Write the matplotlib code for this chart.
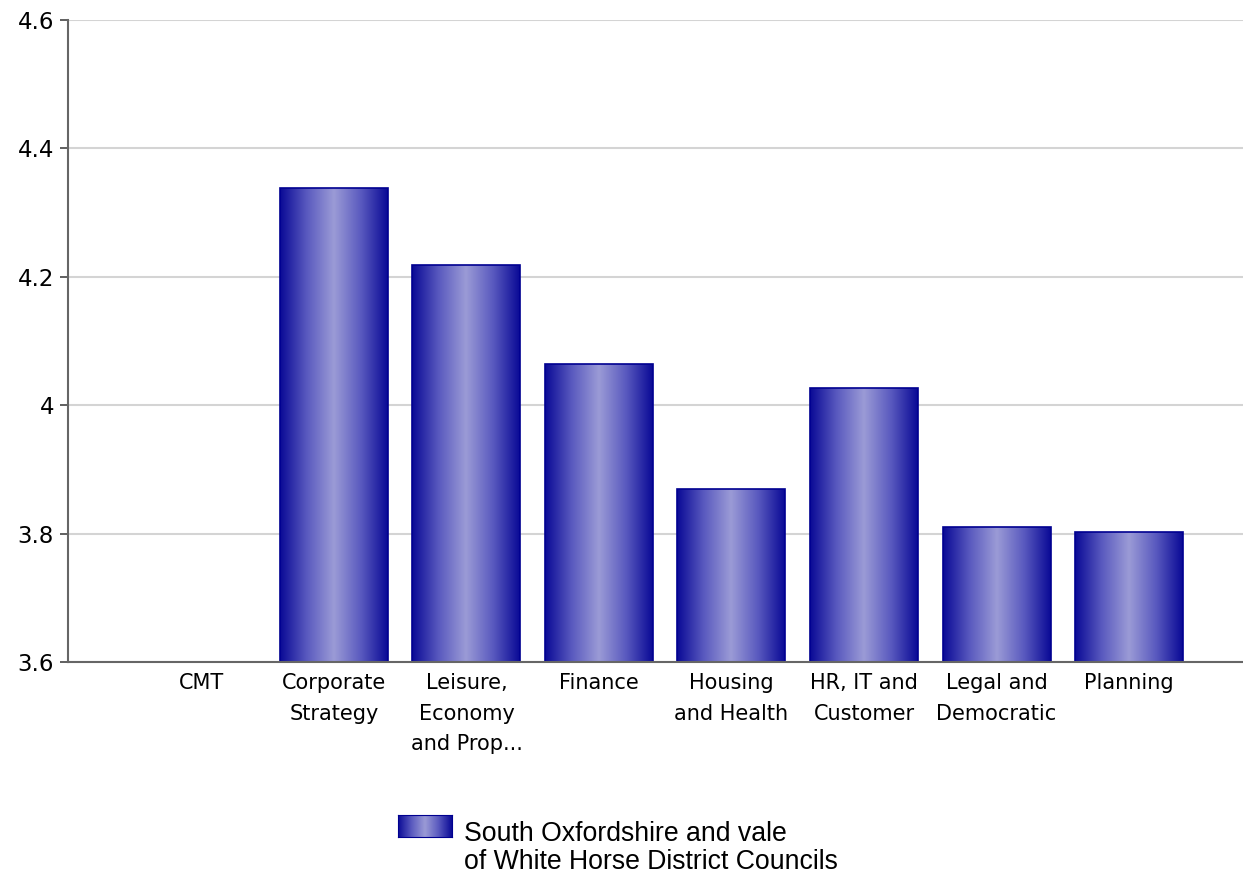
import numpy as np
import matplotlib
matplotlib.use("Agg")
import matplotlib.pyplot as plt
from matplotlib.colors import LinearSegmentedColormap

categories = ["CMT", "Corporate\nStrategy", "Leisure,\nEconomy\nand Prop...", "Finance",
              "Housing\nand Health", "HR, IT and\nCustomer", "Legal and\nDemocratic", "Planning"]
values = [np.nan, 4.338, 4.218, 4.064, 3.869, 4.027, 3.81, 3.803]
series_name = "South Oxfordshire and vale\nof White Horse District Councils"
yticks = [3.6, 3.8, 4.0, 4.2, 4.4, 4.6]
ytick_labels = ["3.6", "3.8", "4", "4.2", "4.4", "4.6"]

# dark edges -> light middle, like a cylinder
cmap = LinearSegmentedColormap.from_list("cyl", ["#0a0a96", "#5a5abf", "#9b9bd6", "#5a5abf", "#0a0a96"])
grad = np.linspace(0, 1, 256).reshape(1, -1)

fig = plt.figure(figsize=(12.43, 8.74), dpi=100)
ax = fig.add_axes([68 / 1243, 1 - 662 / 874, 1 - 68 / 1243, (662 - 20) / 874])

x = np.arange(len(categories))
bars = ax.bar(x, values, width=0.815, bottom=0, facecolor="none",
              edgecolor="#000090", linewidth=1.2, zorder=3)

for b in bars:
    h = b.get_height()
    if np.isnan(h):
        continue
    x0 = b.get_x()
    im = ax.imshow(grad, cmap=cmap, aspect="auto", extent=[x0, x0 + b.get_width(), 3.6, h],
                   zorder=2, interpolation="bicubic")
    im.set_clip_path(b)
ax.set_xlim(-1.007, 7.86)
ax.set_ylim(3.6, 4.6)

ax.set_yticks(yticks)
ax.set_yticklabels(ytick_labels, fontsize=16.5)
ax.set_xticks(x)
ax.set_xticklabels(categories, fontsize=15)
for t in ax.get_xticklabels():
    t.set_linespacing(1.65)
ax.tick_params(axis="x", length=0, pad=8)
ax.tick_params(axis="y", length=6, width=1.2, color="#444444", pad=4)
ax.grid(axis="y", color="#d4d4d4", linewidth=1.5, zorder=0)
ax.set_axisbelow(True)
for side in ["top", "right"]:
    ax.spines[side].set_visible(False)
for side in ["left", "bottom"]:
    ax.spines[side].set_color("#666666")
    ax.spines[side].set_linewidth(1.5)
ax.spines["bottom"].set_zorder(4)

# legend drawn by hand
lax = fig.add_axes([398 / 1243, 1 - 837 / 874, 54 / 1243, 22 / 874])
lax.imshow(grad, cmap=cmap, aspect="auto", extent=[0, 1, 0, 1], interpolation="bicubic")
lax.set_xticks([])
lax.set_yticks([])
for s in lax.spines.values():
    s.set_color("#000090")
fig.text(464 / 1243, 1 - 821 / 874, series_name, fontsize=19.2, family="Liberation Sans",
         va="top", ha="left", linespacing=1.1)

fig.savefig("out.png", dpi=100)
